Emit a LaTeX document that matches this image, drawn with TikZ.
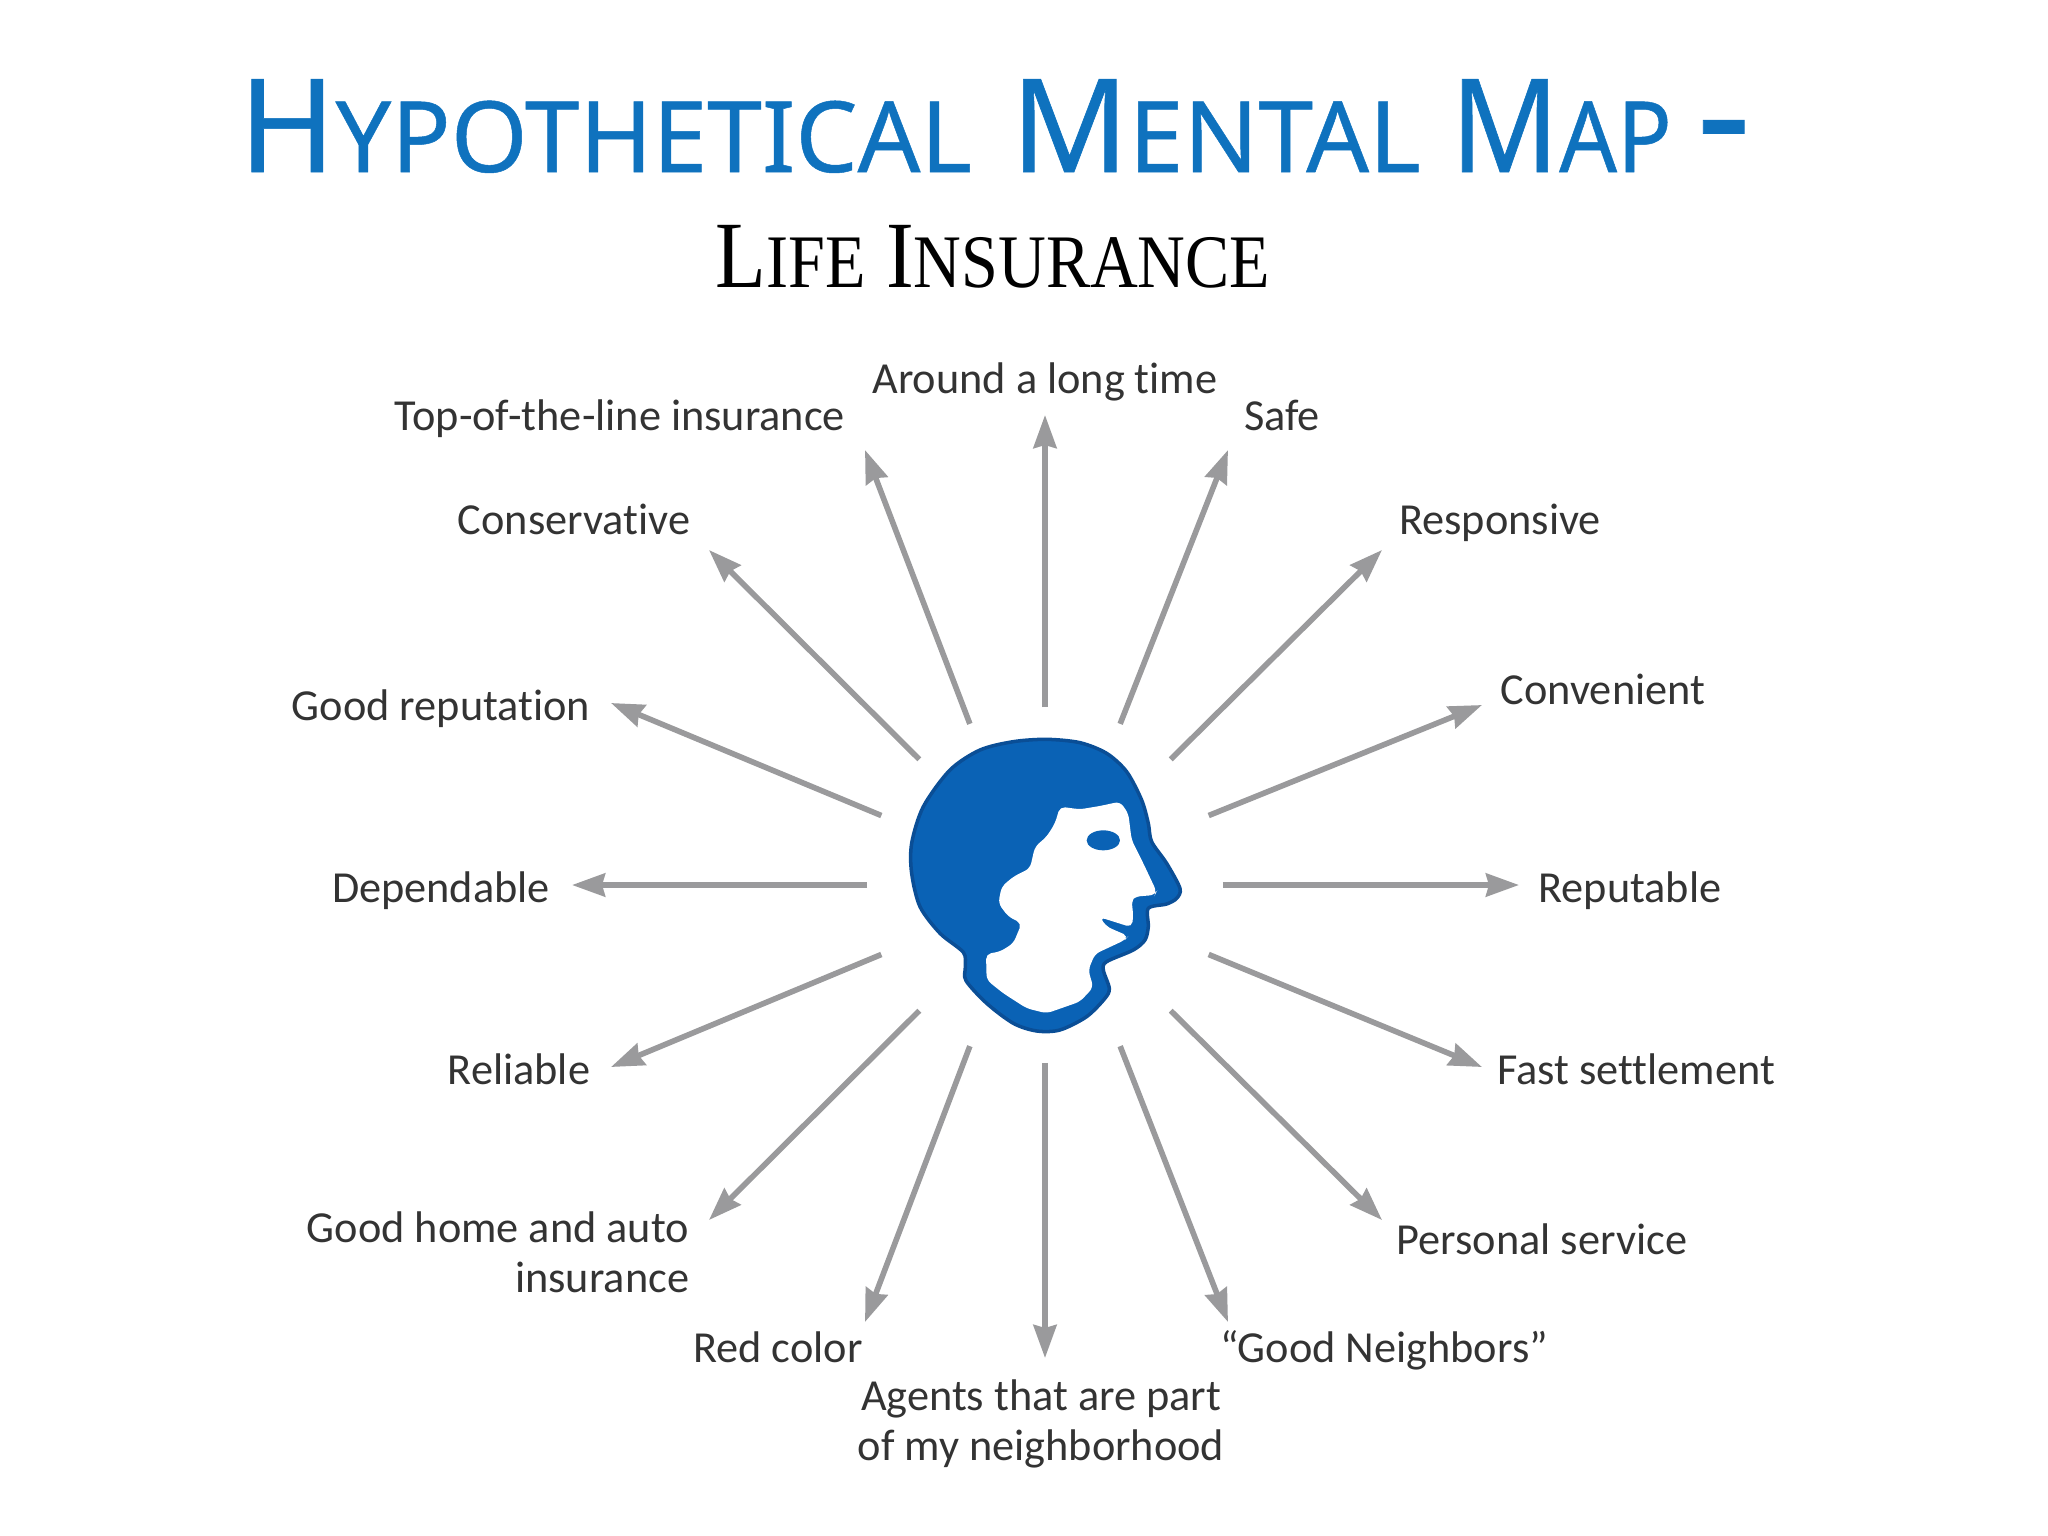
\documentclass[tikz,border=0pt]{standalone}
\usepackage{xcolor}
\usepackage{graphicx}
\usepackage{fontspec}
\setmainfont[Ligatures={TeX,NoCommon}]{Carlito}
\newfontfamily\titlefont[FakeBold=0.5]{Noto Sans}
\newfontfamily\subfont{Liberation Serif}
\usetikzlibrary{arrows.meta}
\definecolor{titleblue}{HTML}{0F72BE}
\definecolor{headblue}{HTML}{0A62B5}
\definecolor{headline}{HTML}{0A4E96}
\definecolor{arrowgray}{HTML}{9A9A9C}
\definecolor{labelgray}{HTML}{333333}
\newcommand{\bigsmall}[4]{{\fontsize{#1}{#1}\selectfont #3}{\fontsize{#2}{#2}\selectfont #4}}

\begin{document}
\begin{tikzpicture}[
    x=0.01cm, y=-0.01cm,
    titletext/.style={anchor=base, inner sep=0pt, text=titleblue, font=\titlefont},
    subtext/.style={anchor=base, inner sep=0pt, text=black, font=\subfont},
    label/.style={anchor=base, inner sep=0pt, text=labelgray, font=\fontsize{12.6pt}{14.2pt}\selectfont, align=center},
    headzone/.style={circle, minimum size=3.54cm, inner sep=0pt},
    arrow/.style={-{Stealth[length=0.33cm, width=0.23cm, inset=0.03cm]}, line width=1.6pt, draw=arrowgray},
]
    \useasboundingbox (0,0) rectangle (2048,1536);

    \node[titletext] (title) at (995,172) {\bigsmall{37pt}{28pt}{H}{YPOTHETICAL}\hspace{11pt}\bigsmall{37pt}{28pt}{M}{ENTAL}\hspace{8.5pt}\scalebox{0.92}[1]{\bigsmall{37pt}{28pt}{M}{AP}}\hspace{7pt}{\fontsize{48pt}{48pt}\selectfont -}};
    \node[subtext] (subtitle) at (993,287) {\scalebox{0.875}[1]{\bigsmall{27pt}{21.5pt}{L}{IFE}\hspace{6.6pt}\bigsmall{27pt}{21.5pt}{I}{NSURANCE}}};

    \node[headzone] (head) at (1045,885) {};

    % silhouette
    \begin{scope}[shift={(880,700)}, scale=0.3333]
        \draw[fill=headblue, draw=headline, line width=1pt] plot[smooth cycle, tension=0.5] coordinates {
            (250,757) (180,700) (120,620) (95,520) (95,430) (130,320) (210,210) (300,150) (400,125) (500,118)
            (600,128) (680,160) (740,215) (785,300) (805,370) (815,425) (860,490) (900,565) (890,595) (860,612)
            (805,625) (805,680) (795,720) (760,750) (680,785) (670,810) (688,865) (675,895) (620,950) (540,990)
            (470,993) (400,970) (320,910) (258,842) (256,800)};
        \fill[white, rounded corners=1.5pt] (540,320) -- (600,328) -- (660,318) -- (720,305) -- (745,340) -- (755,420)
            -- (790,490) -- (830,575) -- (825,585) -- (765,590) -- (755,600) -- (760,650) -- (755,682) -- (660,652)
            -- (680,680) -- (745,708) -- (735,720) -- (645,762) -- (625,810) -- (640,862) -- (600,905) -- (500,940)
            -- (440,925) -- (370,880) -- (320,840) -- (318,762) -- (360,755) -- (400,730) -- (425,670) -- (385,650)
            -- (355,610) -- (365,560) -- (400,530) -- (450,505) -- (465,440) -- (500,410) -- (525,370) -- cycle;
        \fill[headblue] (670,421) ellipse [x radius=50, y radius=30];
    \end{scope}

    \node[label] (topline) at (620,430) {Top-of-the-line insurance};
    \node[label] (around) at (1045,393) {Around a long time};
    \node[label] (safe) at (1282,430) {Safe};
    \node[label] (conservative) at (574,534) {Conservative};
    \node[label] (responsive) at (1500,534) {Responsive};
    \node[label] (goodrep) at (441,720) {Good reputation};
    \node[label] (convenient) at (1603,704) {Convenient};
    \node[label] (dependable) at (441,902) {Dependable};
    \node[label] (reputable) at (1630,902) {Reputable};
    \node[label] (reliable) at (519,1084) {Reliable};
    \node[label] (fast) at (1636,1084) {Fast settlement};
    \node[label, align=right] (goodhome) at (498,1292) {Good home and auto\\insurance};
    \node[label] (personal) at (1542,1254) {Personal service};
    \node[label] (redcolor) at (778,1362) {Red color};
    \node[label] (neighbors) at (1384,1362) {``Good Neighbors''};
    \node[label] (agents) at (1041,1460) {Agents that are part\\of my neighborhood};

    \coordinate (tiptop) at (865,450);
    \coordinate (tiparound) at (1045,415);
    \coordinate (tipsafe) at (1228,450);
    \coordinate (tipcons) at (709,550);
    \coordinate (tipresp) at (1382,550);
    \coordinate (tipgoodrep) at (611,703);
    \coordinate (tipconv) at (1482,705);
    \coordinate (tipdep) at (572,885);
    \coordinate (tiprep) at (1519,885);
    \coordinate (tiprel) at (611,1067);
    \coordinate (tipfast) at (1482,1067);
    \coordinate (tiphome) at (709,1220);
    \coordinate (tippers) at (1382,1220);
    \coordinate (tipred) at (865,1322);
    \coordinate (tipneigh) at (1228,1322);
    \coordinate (tipagents) at (1045,1358);

    \draw[arrow] (head.90) -- (tiparound);
    \draw[arrow] (head.115) -- (tiptop);
    \draw[arrow] (head.65) -- (tipsafe);
    \draw[arrow] (head.135) -- (tipcons);
    \draw[arrow] (head.45) -- (tipresp);
    \draw[arrow] (head.157) -- (tipgoodrep);
    \draw[arrow] (head.23) -- (tipconv);
    \draw[arrow] (head.180) -- (tipdep);
    \draw[arrow] (head.0) -- (tiprep);
    \draw[arrow] (head.203) -- (tiprel);
    \draw[arrow] (head.337) -- (tipfast);
    \draw[arrow] (head.225) -- (tiphome);
    \draw[arrow] (head.315) -- (tippers);
    \draw[arrow] (head.245) -- (tipred);
    \draw[arrow] (head.295) -- (tipneigh);
    \draw[arrow] (head.270) -- (tipagents);
\end{tikzpicture}
\end{document}
